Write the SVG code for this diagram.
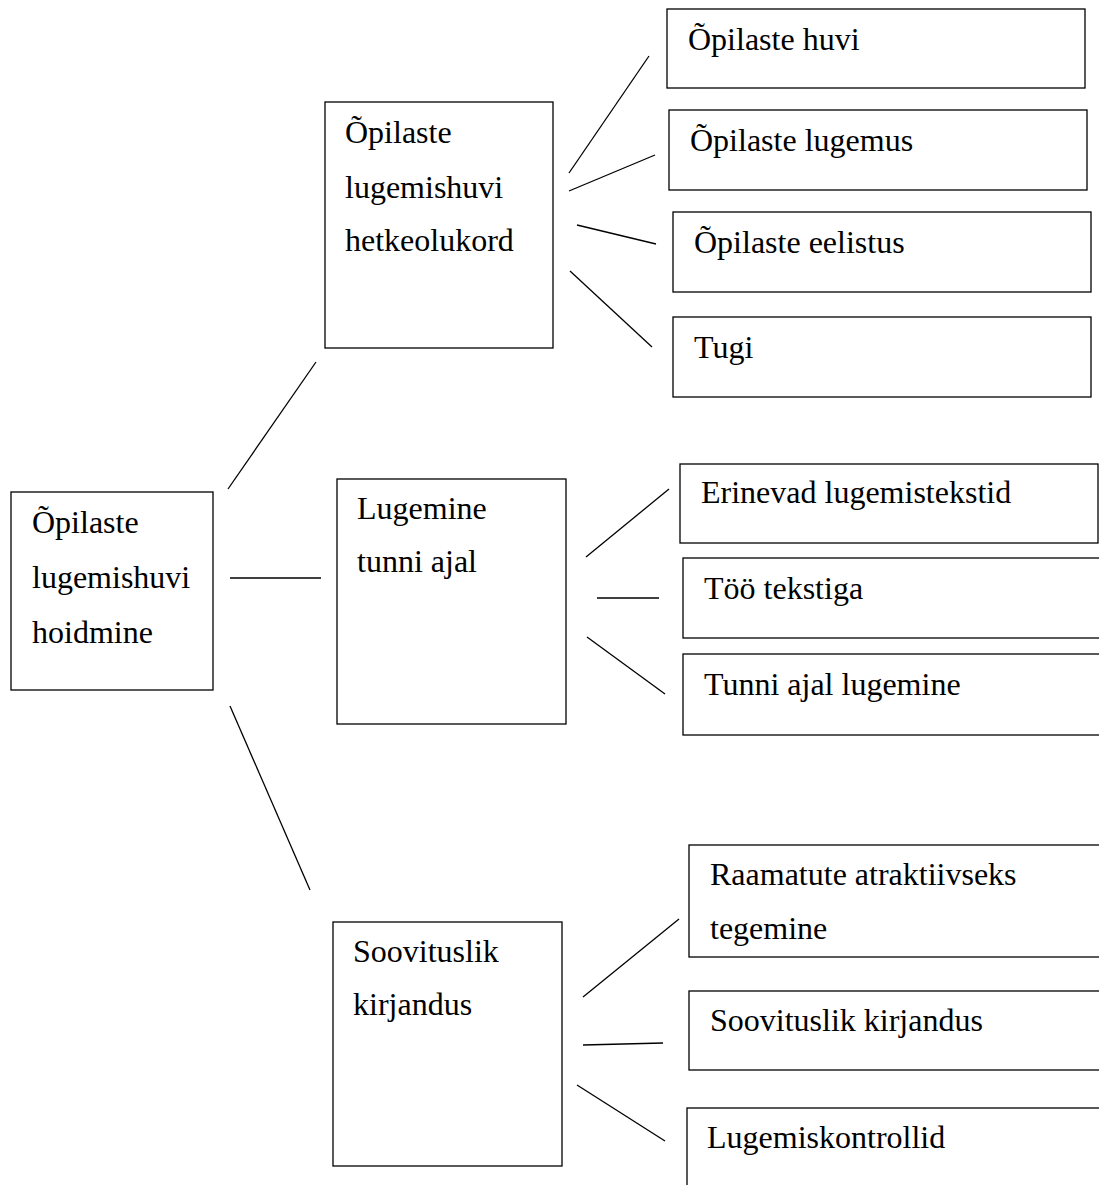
<svg xmlns="http://www.w3.org/2000/svg" width="1099" height="1185" viewBox="0 0 1099 1185">
<style>
.box{fill:#fff;stroke:#000;stroke-width:1.3}
.edge{fill:none;stroke:#000;stroke-width:1.3}
text{font-family:"Liberation Serif","Times New Roman",serif;font-size:32px;fill:#000}
</style>
<rect width="1099" height="1185" fill="#fff"/>
<g id="connectors">
<line class="edge" x1="228" y1="489" x2="316" y2="362"/>
<line class="edge" x1="230" y1="578" x2="321" y2="578"/>
<line class="edge" x1="230" y1="706" x2="310" y2="890"/>
<line class="edge" x1="569" y1="173" x2="649" y2="56"/>
<line class="edge" x1="569" y1="191" x2="655" y2="155"/>
<line class="edge" x1="577" y1="225" x2="656" y2="244"/>
<line class="edge" x1="570" y1="271" x2="652" y2="347"/>
<line class="edge" x1="586" y1="557" x2="669" y2="489"/>
<line class="edge" x1="597" y1="598" x2="659" y2="598"/>
<line class="edge" x1="587" y1="637" x2="665" y2="694"/>
<line class="edge" x1="583" y1="997" x2="679" y2="919"/>
<line class="edge" x1="583" y1="1045" x2="663" y2="1043"/>
<line class="edge" x1="577" y1="1085" x2="665" y2="1141"/>
</g>
<g id="root">
<rect class="box" x="11" y="492" width="202" height="198"/>
<text x="32" y="533">Õpilaste</text>
<text x="32" y="588">lugemishuvi</text>
<text x="32" y="643">hoidmine</text>
</g>
<g id="n1">
<rect class="box" x="325" y="102" width="228" height="246"/>
<text x="345" y="143">Õpilaste</text>
<text x="345" y="198">lugemishuvi</text>
<text x="345" y="251">hetkeolukord</text>
</g>
<g id="n2">
<rect class="box" x="337" y="479" width="229" height="245"/>
<text x="357" y="519">Lugemine</text>
<text x="357" y="572">tunni ajal</text>
</g>
<g id="n3">
<rect class="box" x="333" y="922" width="229" height="244"/>
<text x="353" y="962">Soovituslik</text>
<text x="353" y="1015">kirjandus</text>
</g>
<g id="l1">
<rect class="box" x="667" y="9" width="418" height="79"/>
<text x="688" y="50">Õpilaste huvi</text>
</g>
<g id="l2">
<rect class="box" x="669" y="110" width="418" height="80"/>
<text x="690" y="151">Õpilaste lugemus</text>
</g>
<g id="l3">
<rect class="box" x="673" y="212" width="418" height="80"/>
<text x="694" y="253">Õpilaste eelistus</text>
</g>
<g id="l4">
<rect class="box" x="673" y="317" width="418" height="80"/>
<text x="694" y="358">Tugi</text>
</g>
<g id="l5">
<rect class="box" x="680" y="464" width="418" height="79"/>
<text x="701" y="503">Erinevad lugemistekstid</text>
</g>
<g id="l6">
<rect class="box" x="683" y="558" width="430" height="80"/>
<text x="704" y="599">Töö tekstiga</text>
</g>
<g id="l7">
<rect class="box" x="683" y="654" width="430" height="81"/>
<text x="704" y="695">Tunni ajal lugemine</text>
</g>
<g id="l8">
<rect class="box" x="689" y="845" width="430" height="112"/>
<text x="710" y="885">Raamatute atraktiivseks</text>
<text x="710" y="939">tegemine</text>
</g>
<g id="l9">
<rect class="box" x="689" y="991" width="430" height="79"/>
<text x="710" y="1031">Soovituslik kirjandus</text>
</g>
<g id="l10">
<rect class="box" x="687" y="1108" width="430" height="100"/>
<text x="707" y="1148">Lugemiskontrollid</text>
</g>
</svg>
